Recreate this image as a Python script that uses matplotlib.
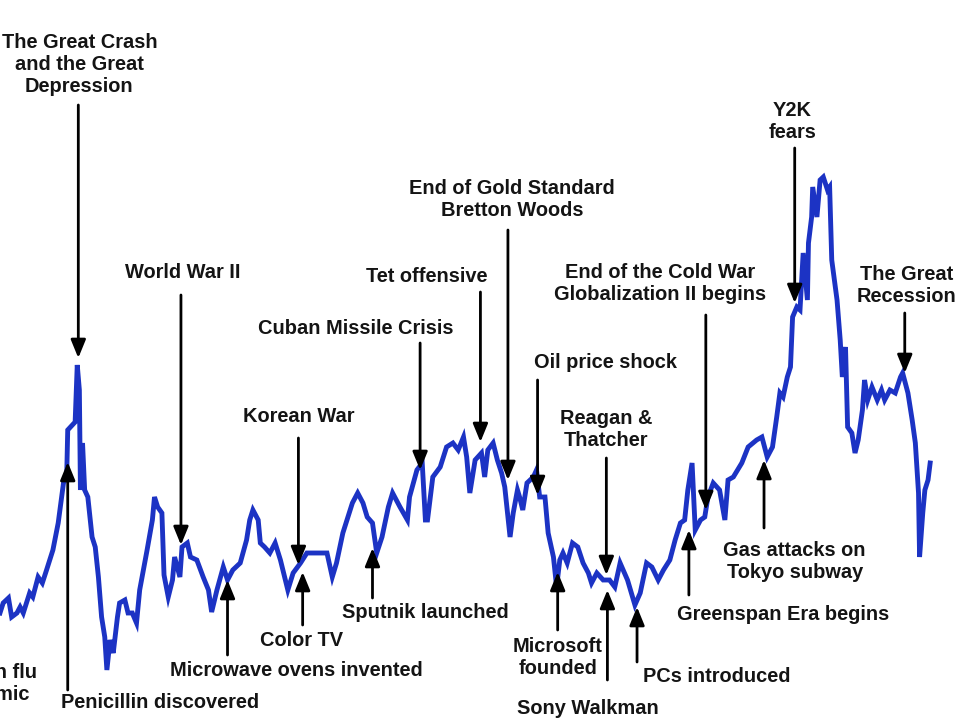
import matplotlib
matplotlib.use("Agg")
import matplotlib.pyplot as plt

# valuation index (no axes shown in the original)
years = [
    1922.4, 1922.7, 1923.2, 1923.5, 1924.0, 1924.3, 1924.6, 1925.2, 1925.5, 1926.0,
    1926.4, 1926.8, 1927.4, 1927.9, 1928.4, 1928.7, 1928.8, 1929.5, 1929.7, 1929.9,
    1930.0, 1930.2, 1930.4, 1930.7, 1931.1, 1931.4, 1931.7, 1932.0, 1932.3, 1932.5,
    1932.8, 1933.1, 1933.5, 1933.7, 1934.2, 1934.5, 1934.9, 1935.3, 1935.6, 1936.3,
    1936.8, 1937.0, 1937.3, 1937.7, 1937.9, 1938.3, 1938.7, 1938.9, 1939.4, 1939.6,
    1940.1, 1940.4, 1941.0, 1941.6, 1942.1, 1942.4, 1942.9, 1943.5, 1943.9, 1944.4,
    1945.1, 1945.7, 1946.0, 1946.3, 1946.8, 1947.0, 1947.4, 1947.9, 1948.4, 1948.9,
    1949.3, 1949.6, 1950.1, 1950.8, 1951.4, 1952.6, 1953.3, 1953.8, 1954.2, 1954.8,
    1955.7, 1956.2, 1956.7, 1957.1, 1957.6, 1958.0, 1958.5, 1959.1, 1959.5, 1960.2,
    1960.9, 1961.1, 1961.8, 1962.3, 1962.6, 1962.8, 1963.3, 1964.0, 1964.6, 1965.2,
    1965.7, 1966.2, 1966.5, 1966.8, 1967.3, 1967.9, 1968.2, 1968.5, 1969.0, 1969.4,
    1969.8, 1970.1, 1970.4, 1970.6, 1970.9, 1971.3, 1971.5, 1971.8, 1972.2, 1972.8,
    1973.1, 1973.4, 1973.9, 1974.2, 1974.7, 1975.0, 1975.3, 1975.6, 1976.0, 1976.5,
    1977.0, 1977.5, 1978.0, 1978.3, 1978.8, 1979.4, 1980.0, 1980.5, 1981.0, 1981.7,
    1982.4, 1982.9, 1983.5, 1984.0, 1984.6, 1985.1, 1985.7, 1986.2, 1986.7, 1987.1,
    1987.4, 1987.8, 1988.1, 1988.6, 1989.0, 1989.3, 1989.8, 1990.4, 1990.9, 1991.2,
    1991.7, 1992.5, 1993.1, 1993.9, 1994.4, 1994.9, 1995.4, 1995.8, 1996.1, 1996.4,
    1996.8, 1997.1, 1997.3, 1997.7, 1998.0, 1998.3, 1998.7, 1998.8, 1999.1, 1999.2,
    1999.6, 1999.9, 2000.2, 2000.6, 2000.8, 2001.0, 2001.5, 2001.8, 2002.0, 2002.3,
    2002.5, 2002.9, 2003.2, 2003.5, 2003.9, 2004.1, 2004.4, 2004.8, 2005.3, 2005.7,
    2006.0, 2006.5, 2007.0, 2007.5, 2007.7, 2008.2, 2008.6, 2008.9, 2009.2, 2009.3,
    2009.6, 2009.8, 2010.1, 2010.3,
]
index = [
    10.7, 11.7, 12.2, 10.3, 10.7, 11.3, 10.7, 12.7, 12.3, 14.3,
    13.7, 15.0, 17.0, 19.7, 23.7, 24.3, 29.0, 29.8, 35.5, 33.0,
    23.0, 27.7, 23.0, 22.3, 18.3, 17.3, 14.3, 10.3, 8.3, 5.0,
    8.0, 6.7, 10.3, 11.7, 12.0, 10.7, 10.7, 9.7, 13.0, 17.0,
    20.0, 22.3, 21.3, 20.7, 14.5, 12.3, 14.0, 16.3, 14.3, 17.3,
    17.7, 16.3, 16.0, 14.3, 13.0, 10.8, 13.0, 15.3, 14.0, 15.0,
    15.7, 18.0, 20.0, 21.0, 20.0, 17.7, 17.3, 16.7, 17.7, 16.0,
    14.3, 13.0, 14.7, 15.7, 16.7, 16.7, 16.7, 14.3, 15.7, 18.7,
    21.7, 22.7, 21.7, 20.3, 19.7, 16.7, 18.3, 21.3, 22.7, 21.3,
    20.0, 22.3, 25.0, 25.7, 20.0, 20.0, 24.3, 25.3, 27.3, 27.7,
    27.0, 28.3, 26.3, 22.7, 26.0, 26.7, 24.3, 27.0, 27.7, 26.0,
    24.7, 23.3, 20.3, 18.3, 20.7, 23.0, 22.3, 21.0, 23.7, 24.3,
    25.0, 22.3, 22.3, 18.7, 16.3, 13.3, 16.0, 16.7, 15.7, 17.7,
    17.3, 15.7, 14.7, 13.7, 14.7, 14.0, 14.0, 13.3, 15.7, 14.0,
    11.5, 12.7, 15.7, 15.3, 14.0, 15.0, 16.0, 18.0, 19.7, 20.0,
    23.0, 25.7, 19.0, 20.0, 20.3, 22.3, 23.7, 23.0, 20.0, 24.0,
    24.3, 25.7, 27.3, 28.0, 28.3, 26.3, 27.3, 30.3, 32.7, 32.3,
    34.3, 35.3, 40.3, 41.3, 41.0, 46.7, 42.0, 47.7, 50.3, 53.3,
    50.3, 54.0, 54.3, 53.0, 53.3, 46.0, 42.0, 38.0, 34.3, 37.3,
    29.3, 28.7, 26.7, 28.0, 31.0, 34.0, 32.0, 33.3, 32.0, 33.0,
    32.0, 33.0, 32.7, 34.3, 34.7, 32.7, 30.0, 27.7, 22.7, 16.3,
    20.7, 23.0, 24.0, 25.7,
]

fig = plt.figure(figsize=(9.6, 7.2), dpi=100)
ax = fig.add_axes([0, 0, 1, 1])
ax.set_xlim(1922.4, 2013.12)
ax.set_ylim(0, 72)
ax.axis("off")

ax.plot(years, index, color="#1c33c4", lw=3.5, solid_joinstyle="miter")

font = dict(family="Liberation Sans", weight="bold", size=14.4, color="#141414",
            ha="center", va="center", linespacing=1.2)
arrow = dict(arrowstyle="-|>,head_length=1.1,head_width=0.45", mutation_scale=10,
             lw=2, color="black", shrinkA=0, shrinkB=0)

def note(label, tx, ty, ax_x=None, tail=None, head=None):
    ax.text(tx, ty, label, **font)
    if ax_x is not None:
        ax.annotate("", xy=(ax_x, head), xytext=(ax_x, tail), arrowprops=arrow)

note("The Great Crash\nand the Great\nDepression", 1929.9, 65.6, 1929.8, 61.5, 36.2)
note("Spanish flu\npandemic", 1920.8, 3.7)
note("Penicillin discovered", 1937.5, 1.7, 1928.8, 3.0, 25.8)
note("World War II", 1939.7, 44.7, 1939.5, 42.5, 17.5)
note("Microwave ovens invented", 1950.4, 5.0, 1943.9, 6.5, 14.0)
note("Korean War", 1950.6, 30.3, 1950.6, 28.2, 15.5)
note("Color TV", 1950.9, 8.0, 1951.0, 9.5, 14.8)
note("Cuban Missile Crisis", 1956.0, 39.2, 1962.1, 37.7, 25.0)
note("Sputnik launched", 1962.6, 10.7, 1957.6, 12.2, 17.2)
note("Tet offensive", 1962.7, 44.3, 1967.8, 42.8, 27.8)
note("End of Gold Standard\nBretton Woods", 1970.8, 52.1, 1970.4, 49.0, 24.0)
note("Oil price shock", 1979.6, 35.7, 1973.2, 34.0, 22.5)
note("Microsoft\nfounded", 1975.1, 6.3, 1975.1, 9.0, 14.8)
note("Reagan &\nThatcher", 1979.7, 29.0, 1979.7, 26.2, 14.5)
note("Sony Walkman", 1978.0, 1.1, 1979.8, 4.0, 13.0)
note("PCs introduced", 1990.1, 4.4, 1982.6, 5.8, 11.3)
note("End of the Cold War\nGlobalization II begins", 1984.8, 43.7, 1989.1, 40.5, 21.0)
note("Greenspan Era begins", 1996.4, 10.6, 1987.5, 12.5, 19.0)
note("Gas attacks on\nTokyo subway", 1997.5, 15.9, 1994.6, 19.2, 26.0)
note("Y2K\nfears", 1997.3, 59.8, 1997.5, 57.2, 41.7)
note("The Great\nRecession", 2008.1, 43.4, 2007.9, 40.7, 34.7)

fig.savefig("out.png", dpi=100, facecolor="white")
